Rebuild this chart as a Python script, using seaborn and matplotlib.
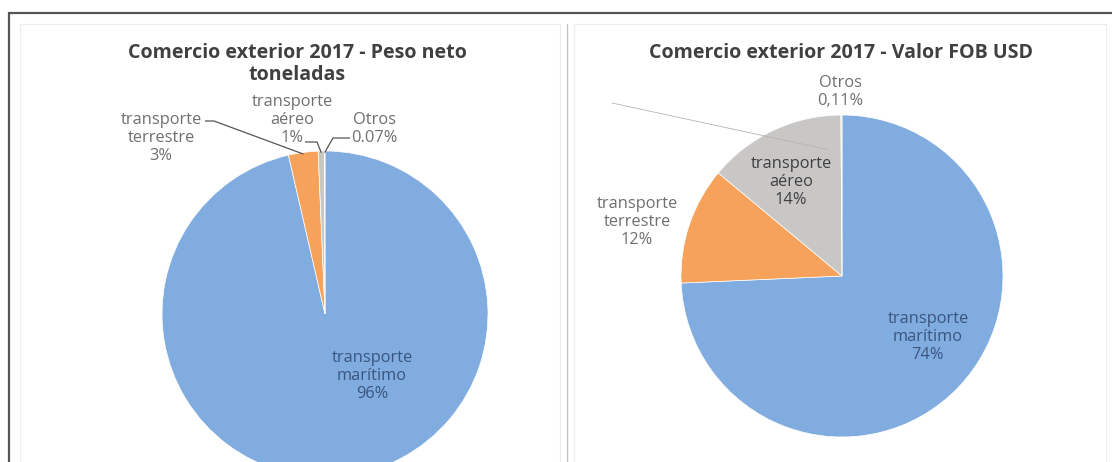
import matplotlib
matplotlib.use("Agg")
import matplotlib.pyplot as plt
import seaborn as sns
import numpy as np

# ---------------- data ----------------
categorias = ["transporte marítimo", "transporte terrestre", "transporte aéreo", "Otros"]
peso_neto = [96.40, 2.93, 0.60, 0.07]          # % peso neto (toneladas)
valor_fob = [74.30, 11.75, 13.84, 0.11]        # % valor FOB USD
etiquetas_peso = ["96%", "3%", "1%", "0.07%"]
etiquetas_fob = ["74%", "12%", "14%", "0,11%"]
titulo_peso = "Comercio exterior 2017 - Peso neto\ntoneladas"
titulo_fob = "Comercio exterior 2017 - Valor FOB USD"
colores = ["#80ace0", "#f6a25a", "#c9c6c6", "#e6d9a8"]

# ---------------- style ----------------
sns.set_theme(style="white")
plt.rcParams['font.family'] = ['Open Sans', 'DejaVu Sans']

W, H = 1112, 462
fig = plt.figure(figsize=(W / 100, H / 100), dpi=100)
fig.patch.set_facecolor("white")
ax = fig.add_axes([0, 0, 1, 1])


def P(x, y):
    """image pixel coords (y down) -> axes coords (y up)"""
    return (x, H - y)


fig.canvas.draw()
rend = fig.canvas.get_renderer()


def fit(text, target_px, weight="normal", base=10.0):
    t = fig.text(0, 0, text, fontsize=base, fontweight=weight)
    w = t.get_window_extent(rend).width
    t.remove()
    return base * target_px / w


fs_title = fit("Comercio exterior 2017 - Peso neto", 340, "bold")
fs_lab = fit("transporte", 81)

# ---------------- pies ----------------
wp = dict(linewidth=0.5, edgecolor="white")
w_peso, _ = ax.pie(peso_neto, colors=colores, startangle=90, counterclock=False,
                   center=P(325, 314), radius=163, frame=True, wedgeprops=wp)
w_fob, _ = ax.pie(valor_fob, colors=colores, startangle=90, counterclock=False,
                  center=P(842, 276), radius=161, frame=True, wedgeprops=wp)

ax.set_xlim(0, W)
ax.set_ylim(0, H)
ax.set_aspect("equal")
ax.axis("off")


def edge(w, frac=0.5, rr=1.0):
    a0, a1 = sorted((w.theta1, w.theta2))
    th = np.deg2rad(a0 + (a1 - a0) * frac)
    cx, cy = w.center
    return (cx + w.r * rr * np.cos(th), cy + w.r * rr * np.sin(th))


def lab(i, etiquetas):
    name = categorias[i].replace(" ", "\n")
    return name + "\n" + etiquetas[i]


gray_txt = "#6f6f6f"
ls = 1.2

# titles
ax.text(*P(297, 64), titulo_peso, ha="center", va="center", fontsize=fs_title,
        fontweight="bold", color="#404040", linespacing=1.15)
ax.text(*P(841, 53), titulo_fob, ha="center", va="center", fontsize=fs_title,
        fontweight="bold", color="#404040")

# ---- left chart labels ----
ax.text(*P(372, 376), lab(0, etiquetas_peso), ha="center", va="center",
        fontsize=fs_lab, color="#3b5680", linespacing=ls)
ax.text(*P(161, 138), lab(1, etiquetas_peso), ha="center", va="center",
        fontsize=fs_lab, color=gray_txt, linespacing=ls)
ax.text(*P(292, 120), lab(2, etiquetas_peso), ha="center", va="center",
        fontsize=fs_lab, color=gray_txt, linespacing=ls)
ax.text(*P(374, 129), lab(3, etiquetas_peso), ha="center", va="center",
        fontsize=fs_lab, color=gray_txt, linespacing=ls)

lead = dict(color="#555555", lw=0.9, solid_capstyle="butt")
e1 = edge(w_peso[1], 0.5, 0.99)
ax.plot([P(205, 121)[0], P(214, 121)[0], e1[0]],
        [P(205, 121)[1], P(214, 121)[1], e1[1]], **lead)
e2 = edge(w_peso[2], 0.5, 0.99)
ax.plot([P(305, 142)[0], P(317, 142)[0], e2[0]],
        [P(305, 142)[1], P(317, 142)[1], e2[1]], **lead)
e3 = edge(w_peso[3], 0.5, 0.99)
ax.plot([P(350, 138)[0], P(333, 138)[0], e3[0]],
        [P(350, 138)[1], P(333, 138)[1], e3[1]], **lead)

# ---- right chart labels ----
ax.text(*P(928, 337), lab(0, etiquetas_fob), ha="center", va="center",
        fontsize=fs_lab, color="#3b5680", linespacing=ls)
ax.text(*P(637, 222), lab(1, etiquetas_fob), ha="center", va="center",
        fontsize=fs_lab, color=gray_txt, linespacing=ls)
ax.text(*P(791, 182), lab(2, etiquetas_fob), ha="center", va="center",
        fontsize=fs_lab, color="#3f3f3f", linespacing=ls)
ax.text(*P(840, 92), lab(3, etiquetas_fob), ha="center", va="center",
        fontsize=fs_lab, color=gray_txt, linespacing=ls)
e4 = edge(w_fob[2], 0.12, 0.79)
ax.plot([P(612, 103)[0], e4[0]], [P(612, 103)[1], e4[1]],
        color="#b5b5b5", lw=0.6)

# ---------------- frame ----------------
ax.plot([P(9, H + 5)[0], P(9, 13)[0], P(W + 5, 13)[0]],
        [P(9, H + 5)[1], P(9, 13)[1], P(W + 5, 13)[1]],
        color="#555555", lw=1.6, solid_joinstyle="miter", clip_on=False)
ax.plot([P(567, 24)[0], P(567, H)[0]], [P(567, 24)[1], P(567, H)[1]],
        color="#c4c4c4", lw=1.0)
for (x0, x1) in [(20, 560), (574, 1106)]:
    ax.plot([x0, x0, x1, x1], [0, H - 24, H - 24, 0], color="#ececec", lw=0.8)

fig.savefig("out.png", dpi=100, facecolor="white")
